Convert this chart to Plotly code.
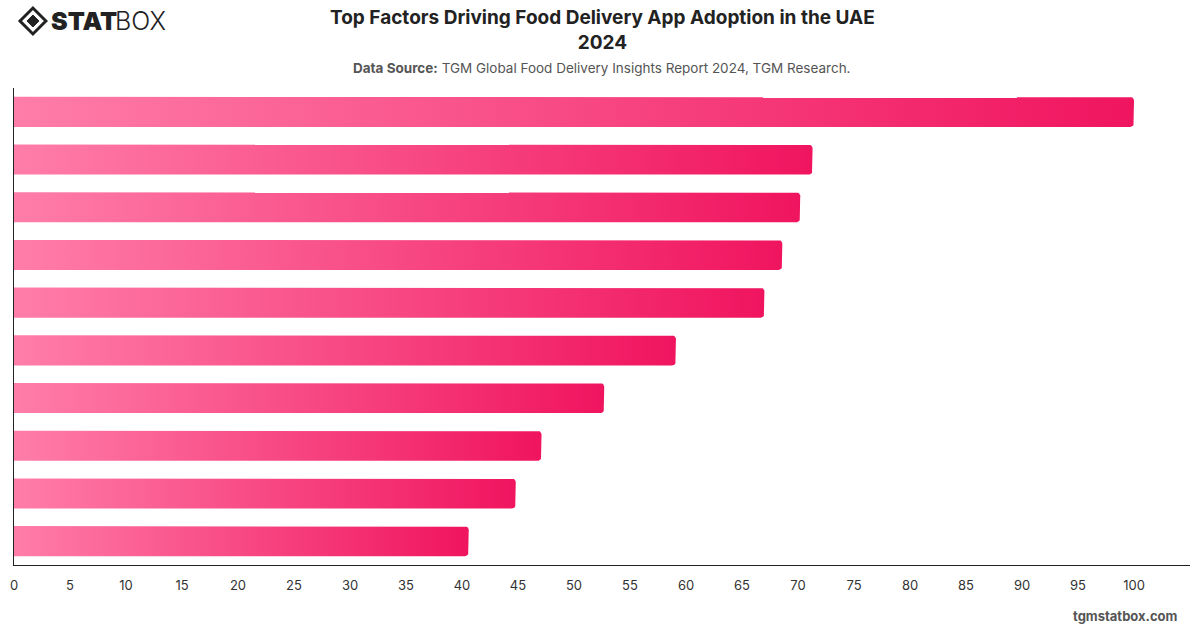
import math
import plotly.graph_objects as go

# ---- data ----
factors = ["Factor 1", "Factor 2", "Factor 3", "Factor 4", "Factor 5",
           "Factor 6", "Factor 7", "Factor 8", "Factor 9", "Factor 10"]
values = [100, 71.3, 70.2, 68.6, 67.0, 59.1, 52.7, 47.1, 44.8, 40.6]
x_ticks = list(range(0, 101, 5))

title = "Top Factors Driving Food Delivery App Adoption in the UAE<br>2024"
subtitle = "<b>Data Source:</b> TGM Global Food Delivery Insights Report 2024, TGM Research."

# ---- layout constants ----
W, H = 1200, 628
ML, MR, MT, MB = 10, 10, 88, 63
XMAX = 105
plot_w = W - ML - MR
plot_h = H - MT - MB
n = len(values)
bar_half = 0.315
rad_px = 4
rx = rad_px * XMAX / plot_w
ry = rad_px * n / plot_h

light = "#FF7DA9"
dark = "#F0145F"


def px(x):
    return (x - ML) / plot_w


def py(y):
    return (H - MB - y) / plot_h


fig = go.Figure()
for i, (name, v) in enumerate(zip(factors, values)):
    y0, y1 = i - bar_half, i + bar_half
    xs = [0, v - rx]
    ys = [y0, y0]
    for k in range(0, 7):
        a = -math.pi / 2 + k * (math.pi / 2) / 6
        xs.append(v - rx + rx * math.cos(a))
        ys.append(y0 + ry + ry * math.sin(a))
    for k in range(0, 7):
        a = k * (math.pi / 2) / 6
        xs.append(v - rx + rx * math.cos(a))
        ys.append(y1 - ry + ry * math.sin(a))
    xs += [0, 0]
    ys += [y1, y0]
    fig.add_trace(go.Scatter(
        x=xs, y=ys, mode="lines", fill="toself",
        line=dict(width=0, color=dark),
        fillgradient=dict(type="horizontal", start=0, stop=v,
                          colorscale=[[0, light], [1, dark]]),
        name=name, hoverinfo="text", text=f"{name}: {v}",
        showlegend=False,
    ))

fig.update_layout(
    width=W, height=H,
    margin=dict(l=ML, r=MR, t=MT, b=MB),
    paper_bgcolor="white", plot_bgcolor="white",
    font=dict(family="Inter, Roboto, sans-serif", color="#333"),
    xaxis=dict(range=[0, XMAX], tickvals=x_ticks, showgrid=False, zeroline=False,
               showline=True, linecolor="#222", linewidth=1,
               tickfont=dict(size=13, color="#333"), ticks="", ticklabelstandoff=8),
    yaxis=dict(range=[n - 0.5, -0.5], showgrid=False, zeroline=False,
               showline=True, linecolor="#222", linewidth=1,
               showticklabels=False, ticks=""),
)

fig.add_annotation(text="<b>" + title.replace("<br>", "</b><br><b>") + "</b>",
                   x=px(600), y=py(4), xref="paper", yref="paper",
                   xanchor="center", yanchor="top", showarrow=False,
                   font=dict(size=19, color="#222", family="Inter, Roboto, sans-serif"))
fig.add_annotation(text=subtitle, x=px(600), y=py(58), xref="paper", yref="paper",
                   xanchor="center", yanchor="top", showarrow=False,
                   font=dict(size=13.5, color="#555"))
fig.add_annotation(text="<b>tgmstatbox.com</b>", x=px(1180), y=py(616),
                   xref="paper", yref="paper", xanchor="right", yanchor="middle",
                   showarrow=False, font=dict(size=13, color="#555"))

# logo text
fig.add_annotation(text="STAT", x=px(45), y=py(21), xref="paper", yref="paper",
                   xanchor="left", yanchor="middle", showarrow=False,
                   font=dict(size=25, color="#222", weight=900,
                             family="Inter, Roboto, sans-serif"))
fig.add_annotation(text="BOX", x=px(109), y=py(21), xref="paper", yref="paper",
                   xanchor="left", yanchor="middle", showarrow=False,
                   font=dict(size=25, color="#222", weight=300,
                             family="Inter, Roboto, sans-serif"))
# logo diamond icon
cx, cy = 29, 21
s = 13
fig.add_shape(type="path", xref="paper", yref="paper",
              path=f"M {px(cx - s)},{py(cy)} L {px(cx)},{py(cy - s)} "
                   f"L {px(cx + s)},{py(cy)} L {px(cx)},{py(cy + s)} Z",
              line=dict(color="#222", width=3), fillcolor="white")
s = 6
fig.add_shape(type="path", xref="paper", yref="paper",
              path=f"M {px(cx - s)},{py(cy)} L {px(cx)},{py(cy - s)} "
                   f"L {px(cx + s)},{py(cy)} L {px(cx)},{py(cy + s)} Z",
              line=dict(color="#222", width=1), fillcolor="#222")

fig.write_html("out.html")
